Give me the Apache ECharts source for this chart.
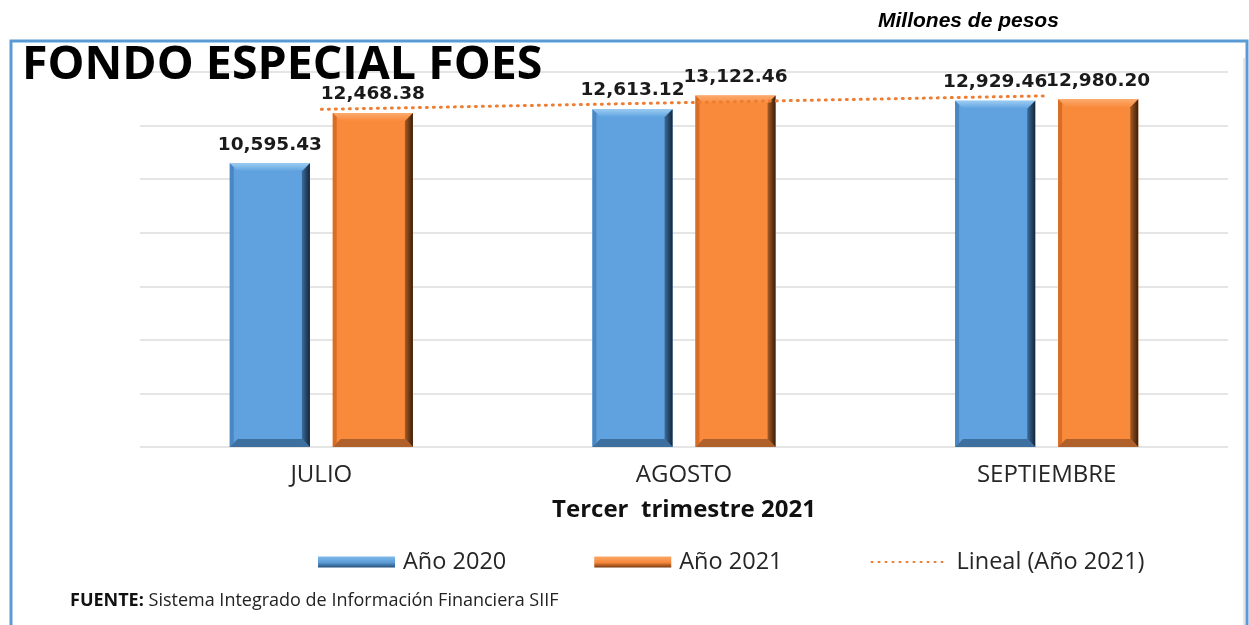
<!DOCTYPE html>
<html>
<head>
<meta charset="utf-8">
<script src="https://cdn.jsdelivr.net/npm/echarts@6/dist/echarts.min.js"></script>
<style>
  html, body { margin: 0; padding: 0; background: #ffffff; }
  #chart { width: 1249px; height: 625px; }
</style>
</head>
<body>
<div id="chart"></div>
<script>
// ---- Data ----
const categories = ['JULIO', 'AGOSTO', 'SEPTIEMBRE'];
const seriesNames = ['Año 2020', 'Año 2021', 'Lineal (Año 2021)'];
const values2020 = [10595.43, 12613.12, 12929.46];
const values2021 = [12468.38, 13122.46, 12980.20];
// Linear trend line: start at first category, end at last
const trend2021 = [12605, null, 13110];
const yTicks = [0, 2000, 4000, 6000, 8000, 10000, 12000, 14000];

const chart = echarts.init(document.getElementById('chart'), null, { renderer: 'canvas' });

const fmt = v => v.toLocaleString('en-US', { minimumFractionDigits: 2, maximumFractionDigits: 2 });

const palettes = [
  { body: '#5fa2df', top: '#9ccdf3', left: '#4a86c2', rightA: '#3b6c9c', rightB: '#14263a', bottom: '#3d6f9f' },
  { body: '#f98a3b', top: '#fbaa6c', left: '#d86d26', rightA: '#a85a22', rightB: '#3a1e0a', bottom: '#b0602a' }
];

function makeRender(si) {
  return function (params, api) {
    const cat = api.value(0), val = api.value(1);
    const band = api.size([1, 0])[0];
    const barW = band * 0.221;
    const off = (si === 0 ? -1 : 1) * band * 0.142;
    const topP = api.coord([cat, val]);
    const baseP = api.coord([cat, 0]);
    const x0 = topP[0] + off - barW / 2, x1 = x0 + barW;
    const y0 = topP[1], y1 = baseP[1];
    const b = 8;
    const p = palettes[si];
    return {
      type: 'group',
      children: [
        { type: 'rect', shape: { x: x0, y: y0, width: barW, height: y1 - y0 }, style: { fill: p.body } },
        { type: 'polygon', shape: { points: [[x0, y0], [x1, y0], [x1 - b, y0 + b], [x0 + b, y0 + b]] },
          style: { fill: new echarts.graphic.LinearGradient(0, 0, 0, 1, [{ offset: 0, color: p.top }, { offset: 1, color: p.body }]) } },
        { type: 'polygon', shape: { points: [[x0, y0], [x0 + 4, y0 + 4], [x0 + 4, y1 - 4], [x0, y1]] },
          style: { fill: p.left } },
        { type: 'polygon', shape: { points: [[x1, y0], [x1, y1], [x1 - b, y1 - b], [x1 - b, y0 + b]] },
          style: { fill: new echarts.graphic.LinearGradient(0, 0, 1, 0, [{ offset: 0, color: p.rightA }, { offset: 1, color: p.rightB }]) } },
        { type: 'polygon', shape: { points: [[x0, y1], [x0 + b, y1 - b], [x1 - b, y1 - b], [x1, y1]] },
          style: { fill: p.bottom } },
        { type: 'text', style: { text: fmt(val), x: (x0 + x1) / 2, y: y0 - 9, align: 'center', verticalAlign: 'bottom',
          font: 'bold 18.5px "DejaVu Sans"', fill: '#1a1a1a' } }
      ]
    };
  };
}

const option = {
  backgroundColor: '#ffffff',
  animation: false,
  grid: { left: 140, right: 21, top: 72, bottom: 178 },
  xAxis: {
    type: 'category',
    data: categories,
    axisLine: { show: false },
    axisTick: { show: false },
    axisLabel: { color: '#262626', fontSize: 24, fontFamily: 'Open Sans', margin: 16 },
    name: 'Tercer  trimestre 2021',
    nameLocation: 'middle',
    nameGap: 51,
    nameTextStyle: { color: '#111', fontSize: 24, fontWeight: 'bold', fontFamily: 'Open Sans' }
  },
  yAxis: {
    type: 'value',
    min: yTicks[0], max: yTicks[yTicks.length - 1], interval: 2000,
    axisLabel: { show: false },
    axisLine: { show: false },
    axisTick: { show: false },
    splitLine: { lineStyle: { color: '#dcdcdc', width: 1.5 } }
  },
  legend: {
    left: 313, top: 545,
    itemWidth: 77, itemHeight: 11, itemGap: 88,
    textStyle: { fontSize: 23.5, fontFamily: 'Open Sans', color: '#262626', padding: [0, 0, 0, 3] },
    data: [
      { name: seriesNames[0], icon: 'rect' },
      { name: seriesNames[1], icon: 'rect' },
      { name: seriesNames[2], itemStyle: { opacity: 0 } }
    ]
  },
  series: [
    {
      name: seriesNames[0], type: 'custom', renderItem: makeRender(0),
      itemStyle: { color: new echarts.graphic.LinearGradient(0, 0, 0, 1, [{ offset: 0, color: '#7fbbec' }, { offset: 0.55, color: '#5b9bd5' }, { offset: 1, color: '#24507a' }]) },
      encode: { x: 0, y: 1 },
      data: values2020.map((v, i) => [i, v]), z: 2
    },
    {
      name: seriesNames[1], type: 'custom', renderItem: makeRender(1),
      itemStyle: { color: new echarts.graphic.LinearGradient(0, 0, 0, 1, [{ offset: 0, color: '#fba868' }, { offset: 0.55, color: '#f5873a' }, { offset: 1, color: '#7a3a10' }]) },
      encode: { x: 0, y: 1 },
      data: values2021.map((v, i) => [i, v]), z: 2
    },
    {
      name: seriesNames[2], type: 'line', data: trend2021, connectNulls: true,
      symbol: 'none', z: 3,
      itemStyle: { color: '#ed7d31' },
      lineStyle: { color: '#ed7d31', width: 3, type: [1, 6], cap: 'round' }
    }
  ],
  graphic: [
    { type: 'rect', shape: { x: 11, y: 41, width: 1236, height: 600 }, style: { fill: 'none', stroke: '#5b9bd5', lineWidth: 3 }, z: 0 },
    { type: 'line', shape: { x1: 1244, y1: 58, x2: 1244, y2: 625 }, style: { stroke: '#e6e6e6', lineWidth: 2 }, z: 1 },
    { type: 'text', left: 878, top: 11, style: { text: 'Millones de pesos', font: 'italic bold 21px "Liberation Sans"', fill: '#000' } },
    { type: 'text', left: 22, top: 42, z: 10, style: { text: 'FONDO ESPECIAL FOES', font: 'bold 46.5px "Open Sans"', fill: '#000' } },
    { type: 'text', left: 70, top: 592, style: {
      text: '{b|FUENTE:} Sistema Integrado de Información Financiera SIIF',
      rich: { b: { fontWeight: 'bold', fontSize: 18, fontFamily: 'Open Sans', fill: '#111' } },
      font: '18px "Open Sans"', fill: '#222' } }
  ]
};
chart.setOption(option);
</script>
</body>
</html>
